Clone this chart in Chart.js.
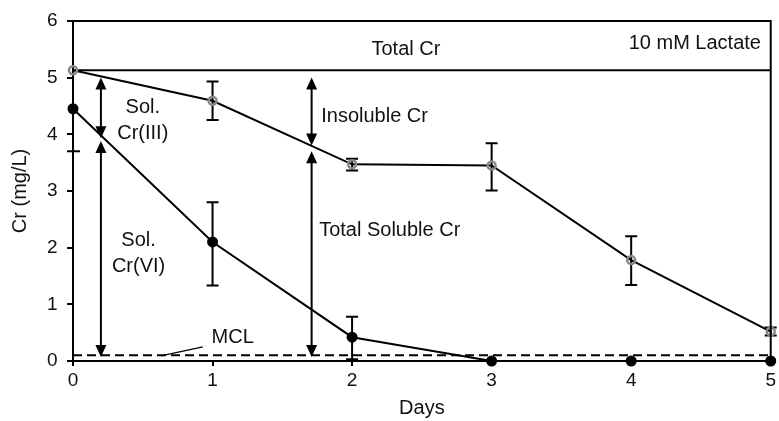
<!DOCTYPE html>
<html><head><meta charset="utf-8">
<script src="https://cdn.jsdelivr.net/npm/chart.js@4/dist/chart.umd.min.js"></script>
<style>html,body{margin:0;padding:0;background:#fff;} #wrap{width:779px;height:421px;}</style>
</head><body><div id="wrap"><canvas id="c" width="779" height="421"></canvas></div>
<script>
const days = [0, 1, 2, 3, 4, 5];
const totalCr = [5.13, 4.59, 3.47, 3.45, 1.78, 0.52];
const totalCrHigh = [5.13, 4.93, 3.57, 3.84, 2.20, 0.59];
const totalCrLow = [5.13, 4.25, 3.36, 3.01, 1.34, 0.45];
const crVI = [4.45, 2.10, 0.42, 0, 0, 0];
const crVIHigh = [4.45, 2.80, 0.78, 0, 0, 0];
const crVILow = [4.45, 1.33, 0.03, 0, 0, 0];
const totalCrLevel = 5.13;
const mclLevel = 0.1;
const xTicks = [0, 1, 2, 3, 4, 5];
const yTicks = [0, 1, 2, 3, 4, 5, 6];

const FAM = '"Liberation Sans", Arial, sans-serif';
const TXT = '#111';

function pts(xs, ys) { return xs.map((x, i) => ({x: x, y: ys[i]})); }

const annot = {
  id: 'annot',
  beforeDatasetsDraw(chart) {
    const ctx = chart.ctx, xs = chart.scales.x, ys = chart.scales.y;
    ctx.save();
    ctx.strokeStyle = '#000';
    ctx.lineWidth = 2;
    const bars = [[totalCrHigh, totalCrLow], [crVIHigh, crVILow]];
    bars.forEach(([hi, lo]) => {
      days.forEach((d, i) => {
        if (hi[i] === lo[i]) return;
        const x = xs.getPixelForValue(d);
        const y1 = ys.getPixelForValue(hi[i]);
        const y2 = ys.getPixelForValue(lo[i]);
        ctx.beginPath();
        ctx.moveTo(x, y1); ctx.lineTo(x, y2);
        ctx.moveTo(x - 6, y1); ctx.lineTo(x + 6, y1);
        ctx.moveTo(x - 6, y2); ctx.lineTo(x + 6, y2);
        ctx.stroke();
      });
    });
    ctx.restore();
  },
  afterDraw(chart) {
    const ctx = chart.ctx, xs = chart.scales.x, ys = chart.scales.y, a = chart.chartArea;
    const X = v => xs.getPixelForValue(v), Y = v => ys.getPixelForValue(v);
    ctx.save();
    ctx.strokeStyle = '#000';
    ctx.fillStyle = '#000';
    ctx.lineWidth = 2;
    // frame top and right
    ctx.beginPath();
    ctx.moveTo(a.left, a.top); ctx.lineTo(a.right, a.top); ctx.lineTo(a.right, a.bottom);
    ctx.stroke();
    // mark on y axis
    ctx.beginPath();
    ctx.moveTo(a.left - 6, Y(3.7)); ctx.lineTo(a.left + 7, Y(3.7));
    ctx.stroke();
    // arrows
    function arrow(xv, yTop, yBot) {
      const x = X(xv), t = Y(yTop), b = Y(yBot), L = 12, W = 5.5;
      ctx.lineWidth = 2;
      ctx.beginPath(); ctx.moveTo(x, t + L - 1); ctx.lineTo(x, b - L + 1); ctx.stroke();
      ctx.beginPath(); ctx.moveTo(x, t); ctx.lineTo(x - W, t + L); ctx.lineTo(x + W, t + L); ctx.closePath(); ctx.fill();
      ctx.beginPath(); ctx.moveTo(x, b); ctx.lineTo(x - W, b - L); ctx.lineTo(x + W, b - L); ctx.closePath(); ctx.fill();
    }
    arrow(0.2, 5.0, 3.93);
    arrow(0.2, 3.88, 0.07);
    arrow(1.71, 5.0, 3.80);
    arrow(1.71, 3.70, 0.07);
    // MCL leader line
    ctx.lineWidth = 1.2;
    ctx.beginPath(); ctx.moveTo(X(0.63), Y(0.09)); ctx.lineTo(X(0.93), Y(0.25)); ctx.stroke();
    // texts
    ctx.fillStyle = TXT;
    ctx.font = '20px ' + FAM;
    ctx.textBaseline = 'middle';
    function t(s, xv, yv, align) { ctx.textAlign = align; ctx.fillText(s, X(xv), Y(yv)); }
    t('Sol.', 0.5, 4.47, 'center');
    t('Cr(III)', 0.5, 4.02, 'center');
    t('Sol.', 0.47, 2.13, 'center');
    t('Cr(VI)', 0.47, 1.67, 'center');
    t('Insoluble Cr', 1.779, 4.32, 'left');
    t('Total Soluble Cr', 1.764, 2.30, 'left');
    t('Total Cr', 2.386, 5.49, 'center');
    t('10 mM Lactate', 4.93, 5.61, 'right');
    t('MCL', 0.993, 0.41, 'left');
    ctx.restore();
  }
};

new Chart(document.getElementById('c'), {
  type: 'scatter',
  data: {
    datasets: [
      {
        label: 'Total Cr',
        data: pts(days, totalCr),
        showLine: true,
        borderColor: '#000',
        borderWidth: 2,
        pointRadius: 4,
        pointBorderWidth: 2.5,
        pointBorderColor: '#888',
        pointBackgroundColor: 'rgba(0,0,0,0)',
        clip: false
      },
      {
        label: 'Cr(VI)',
        data: pts(days, crVI),
        showLine: true,
        borderColor: '#000',
        borderWidth: 2,
        pointRadius: 5.5,
        pointBorderWidth: 0,
        pointBackgroundColor: '#000',
        clip: false
      },
      {
        label: 'Total Cr level',
        data: pts([days[0], days[days.length - 1]], [totalCrLevel, totalCrLevel]),
        showLine: true,
        borderColor: '#000',
        borderWidth: 2,
        pointRadius: 0
      },
      {
        label: 'MCL',
        data: pts([days[0], days[days.length - 1]], [mclLevel, mclLevel]),
        showLine: true,
        borderColor: '#000',
        borderWidth: 2,
        borderDash: [9, 5],
        pointRadius: 0
      }
    ]
  },
  options: {
    responsive: false,
    animation: false,
    devicePixelRatio: 1,
    layout: {padding: {top: 19, right: 6, bottom: 0, left: 0}},
    plugins: {legend: {display: false}, tooltip: {enabled: false}},
    scales: {
      x: {
        type: 'linear', min: 0, max: 5,
        afterBuildTicks: s => { s.ticks = xTicks.map(v => ({value: v})); },
        afterFit: s => { s.height = 60; },
        ticks: {color: TXT, font: {family: FAM, size: 19}, padding: 3},
        grid: {drawOnChartArea: false, drawTicks: true, tickLength: 5, color: '#000', lineWidth: 2},
        border: {display: true, color: '#000', width: 2},
        title: {display: true, text: 'Days', color: TXT, font: {family: FAM, size: 20}, padding: {top: 0, bottom: 1}}
      },
      y: {
        type: 'linear', min: 0, max: 6,
        afterBuildTicks: s => { s.ticks = yTicks.map(v => ({value: v})); },
        afterFit: s => { s.width = 73; },
        ticks: {color: TXT, font: {family: FAM, size: 19}, padding: 9.5},
        grid: {drawOnChartArea: false, drawTicks: true, tickLength: 6, color: '#000', lineWidth: 2},
        border: {display: true, color: '#000', width: 2},
        title: {display: true, text: 'Cr (mg/L)', color: TXT, font: {family: FAM, size: 20}, padding: {top: 8, bottom: 0}}
      }
    }
  },
  plugins: [annot]
});
</script></body></html>
